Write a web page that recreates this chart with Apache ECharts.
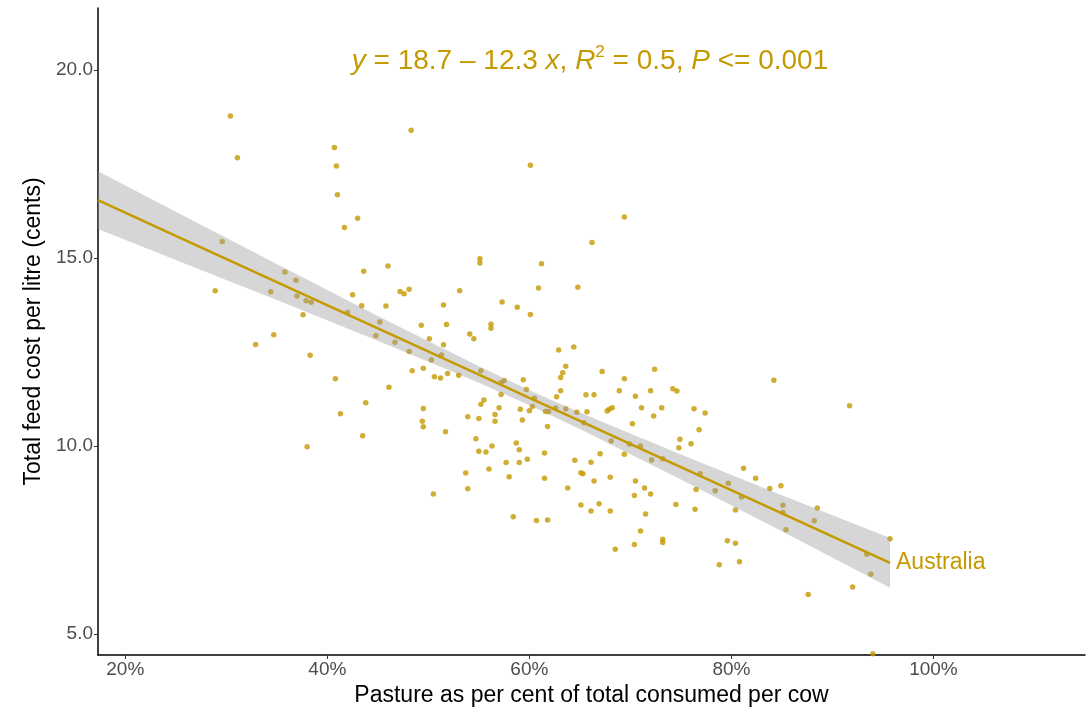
<!DOCTYPE html>
<html>
<head>
<meta charset="utf-8">
<script src="https://cdn.jsdelivr.net/npm/echarts@6/dist/echarts.min.js"></script>
<style>html,body{margin:0;padding:0;background:#fff}#c{width:1092px;height:717px}</style>
</head>
<body>
<div id="c"></div>
<script>
// pasture share (fraction of total consumed per cow)
const pastureShare = [0.304,0.311,0.407,0.409,0.410,0.417,0.296,0.358,0.369,0.289,0.344,0.370,0.379,0.384,0.483,0.430,0.601,0.551,0.551,0.612,0.436,0.460,0.425,0.472,0.476,0.481,0.531,0.609,0.573,0.434,0.588,0.601,0.515,0.458,0.376,0.420,0.452,0.493,0.518,0.562,0.562,0.448,0.501,0.541,0.545,0.467,0.515,0.481,0.513,0.383,0.503,0.484,0.495,0.552,0.506,0.512,0.519,0.530,0.408,0.461,0.575,0.572,0.594,0.597,0.572,0.555,0.552,0.605,0.438,0.570,0.603,0.591,0.600,0.616,0.619,0.495,0.413,0.566,0.539,0.550,0.593,0.566,0.494,0.495,0.618,0.517,0.435,0.547,0.587,0.380,0.563,0.590,0.550,0.557,0.615,0.577,0.590,0.598,0.560,0.537,0.580,0.615,0.539,0.505,0.584,0.607,0.618,0.694,0.662,0.648,0.629,0.644,0.636,0.633,0.631,0.672,0.724,0.694,0.631,0.689,0.720,0.742,0.746,0.656,0.664,0.705,0.627,0.626,0.636,0.647,0.657,0.677,0.679,0.682,0.711,0.731,0.763,0.774,0.723,0.654,0.702,0.768,0.749,0.760,0.748,0.681,0.699,0.710,0.645,0.661,0.670,0.694,0.721,0.732,0.769,0.797,0.784,0.810,0.812,0.765,0.651,0.653,0.680,0.664,0.638,0.705,0.714,0.720,0.651,0.661,0.669,0.680,0.704,0.715,0.745,0.764,0.804,0.710,0.732,0.732,0.796,0.804,0.685,0.704,0.842,0.917,0.824,0.838,0.849,0.851,0.851,0.885,0.882,0.854,0.788,0.808,0.957,0.934,0.938,0.920,0.876,0.940,0.347,0.329];
// total feed cost per litre (cents)
const feedCost = [18.78,17.67,17.94,17.45,16.68,15.81,15.44,14.63,14.41,14.13,14.10,13.99,13.86,13.82,18.40,16.06,17.47,14.98,14.87,14.85,14.65,14.79,14.02,14.11,14.05,14.17,14.13,14.20,13.83,13.73,13.69,13.50,13.75,13.72,13.49,13.55,13.30,13.21,13.23,13.24,13.13,12.93,12.85,12.98,12.85,12.76,12.69,12.51,12.42,12.41,12.29,12.00,12.07,12.00,11.84,11.81,11.93,11.88,11.79,11.56,11.74,11.68,11.76,11.50,11.37,11.22,11.11,11.27,11.15,11.02,11.05,10.98,10.94,10.92,10.92,11.00,10.86,10.84,10.78,10.73,10.69,10.66,10.66,10.51,10.52,10.38,10.27,10.19,10.08,9.98,10.00,9.90,9.86,9.84,9.81,9.56,9.56,9.65,9.39,9.28,9.18,9.14,8.86,8.72,8.12,8.02,8.03,16.09,15.41,14.22,12.55,12.63,12.12,11.95,11.82,11.98,12.04,11.79,11.47,11.47,11.47,11.52,11.46,11.36,11.36,11.32,11.31,11.01,10.99,10.90,10.91,10.93,10.98,11.02,11.02,11.02,10.99,10.88,10.80,10.62,10.59,10.43,10.18,10.06,9.95,10.13,10.05,10.00,9.62,9.57,9.79,9.78,9.63,9.66,9.26,9.01,8.81,8.64,9.41,8.84,9.29,9.26,9.17,9.07,8.88,9.07,8.88,8.72,8.43,8.27,8.46,8.27,8.68,8.19,8.44,8.32,8.30,7.74,7.52,7.43,7.48,7.41,7.25,7.38,11.75,11.07,9.14,8.87,8.94,8.42,8.23,8.35,8.01,7.77,6.84,6.92,7.53,7.12,6.59,6.25,6.05,4.47,12.96,12.70];
// fitted line and 95% confidence band
const fitX = [0.173,0.25,0.35,0.45,0.55,0.60,0.65,0.75,0.85,0.957];
const fitY = [16.54,15.59,14.36,13.13,11.90,11.28,10.67,9.44,8.21,6.89];
const bandLow = [15.77,14.95,13.88,12.80,11.68,11.08,10.45,9.11,7.73,6.23];
const bandHigh = [17.31,16.23,14.84,13.46,12.12,11.48,10.89,9.77,8.69,7.55];
const xTicks = [0.2,0.4,0.6,0.8,1.0];
const yTicks = [5,10,15,20];

const gold = '#C49A00';
const font = '"Liberation Sans", Arial, sans-serif';
const chart = echarts.init(document.getElementById('c'));
chart.setOption({
  animation: false,
  backgroundColor: '#fff',
  grid: {left: 98, right: 7, top: 8, bottom: 62, containLabel: false},
  xAxis: {
    type: 'value', min: 0.173, max: 1.15,
    name: 'Pasture as per cent of total consumed per cow',
    nameLocation: 'middle', nameGap: 27,
    nameTextStyle: {fontSize: 23, color: '#000', fontFamily: font},
    splitLine: {show: false},
    axisLine: {show: true, onZero: false, lineStyle: {color: '#000', width: 1.5}},
    axisTick: {show: true, length: 4, lineStyle: {color: '#333'}, customValues: xTicks},
    axisLabel: {customValues: xTicks, fontSize: 19, color: '#4d4d4d', fontFamily: font, margin: 5,
      formatter: v => Math.round(v * 100) + '%'}
  },
  yAxis: {
    type: 'value', min: 4.44, max: 21.65,
    name: 'Total feed cost per litre (cents)',
    nameLocation: 'middle', nameGap: 51, nameRotate: 90,
    nameTextStyle: {fontSize: 23, color: '#000', fontFamily: font},
    splitLine: {show: false},
    axisLine: {show: true, onZero: false, lineStyle: {color: '#000', width: 1.5}},
    axisTick: {show: true, length: 4, lineStyle: {color: '#333'}, customValues: yTicks},
    axisLabel: {customValues: yTicks, fontSize: 19, color: '#4d4d4d', fontFamily: font, margin: 5,
      formatter: v => v.toFixed(1)}
  },
  graphic: [{
    type: 'text', x: 590, y: 61, z: 10,
    style: {
      text: '{i|y} = 18.7 – 12.3 {i|x}, {i|R}{s|2} = 0.5, {i|P} <= 0.001',
      fill: gold, font: '28px ' + font, align: 'center', verticalAlign: 'middle',
      rich: {
        n: {},
        i: {fontStyle: 'italic', fontSize: 28, fontFamily: font, fill: gold, lineHeight: 34},
        s: {fontSize: 17, fontFamily: font, fill: gold, verticalAlign: 'top', lineHeight: 34, padding: [0, 0, 16, 0]}
      }
    }
  }],
  series: [
    {
      type: 'scatter', z: 2, symbolSize: 5.5,
      itemStyle: {color: gold},
      data: pastureShare.map((x, i) => [x, feedCost[i]])
    },
    {
      type: 'custom', z: 3, silent: true,
      data: fitX.map((x, i) => [x, bandLow[i], bandHigh[i]]),
      encode: {x: 0, y: [1, 2]},
      renderItem: function (params, api) {
        if (params.dataIndex !== 0) return null;
        const pts = [];
        for (let i = 0; i < fitX.length; i++) pts.push(api.coord([fitX[i], bandHigh[i]]));
        for (let i = fitX.length - 1; i >= 0; i--) pts.push(api.coord([fitX[i], bandLow[i]]));
        return {type: 'polygon', shape: {points: pts, smooth: 0}, style: {fill: 'rgba(153,153,153,0.4)'}};
      }
    },
    {
      type: 'line', z: 4, symbol: 'none', name: 'Australia', silent: true,
      lineStyle: {color: gold, width: 2.5},
      data: fitX.map((x, i) => [x, fitY[i]]),
      endLabel: {show: true, formatter: 'Australia', color: gold, fontSize: 23, fontFamily: font, distance: 6}
    }
  ]
});
</script>
</body>
</html>
